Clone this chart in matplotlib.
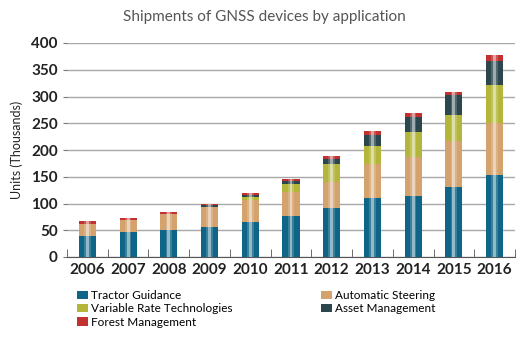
import numpy as np
import matplotlib.pyplot as plt
from matplotlib.patches import Patch

plt.rcParams['font.family'] = ['Lato', 'DejaVu Sans']

# Data (thousands of units)
years = ['2006', '2007', '2008', '2009', '2010', '2011', '2012', '2013', '2014', '2015', '2016']
tractor = [40, 46, 50, 57, 65, 77, 92, 110, 114, 131, 154]
auto_steer = [21, 23, 30, 36, 41, 44, 48, 63, 72, 85, 96]
vrt = [0, 0, 0, 1, 6, 16, 33, 35, 48, 50, 71]
asset = [1, 0, 0, 3, 3, 5, 11, 20, 27, 36, 46]
forest = [5, 3, 4, 3, 5, 4, 4, 8, 8, 6, 10]

series = [
    ('Tractor Guidance', tractor, '#0f6587'),
    ('Automatic Steering', auto_steer, '#d4a26c'),
    ('Variable Rate Technologies', vrt, '#b3b63a'),
    ('Asset Management', asset, '#2b474d'),
    ('Forest Management', forest, '#c2302f'),
]

fig = plt.figure(figsize=(5.29, 3.39), dpi=100)
ax = fig.add_axes([67 / 529, 1 - 257 / 339, 448 / 529, 214 / 339])

x = np.arange(len(years))
width = 0.42
bottom = np.zeros(len(years))
for name, vals, color in series:
    vals = np.array(vals, dtype=float)
    ax.bar(x, vals, width, bottom=bottom, color=color, zorder=2)
    bottom += vals

# soft highlight stripe down the middle of each bar
ax.bar(x, bottom, 0.16, color='white', alpha=0.18, zorder=3)
ax.bar(x, bottom, 0.07, color='white', alpha=0.45, zorder=3)

ax.set_xlim(-0.5, len(years) - 0.5)
ax.set_ylim(0, 400)
ax.set_yticks(np.arange(0, 401, 50))
ax.set_xticks(x)
ax.set_xticklabels(years, fontsize=11, fontweight='bold', color='#222222')
ax.set_xticks(np.arange(-0.5, len(years)), minor=True)
ax.tick_params(axis='x', which='major', length=0, pad=4)
ax.tick_params(axis='x', which='minor', direction='in', length=6, color='#555555')
ax.tick_params(axis='y', length=3, color='#777777', labelsize=11, labelcolor='#222222')
for lab in ax.get_yticklabels():
    lab.set_fontweight('bold')

ax.grid(axis='y', color='#a8a8a8', linewidth=1, zorder=0)
for s in ['top', 'right', 'left']:
    ax.spines[s].set_visible(False)
ax.spines['bottom'].set_color('#555555')

ax.set_ylabel('Units (Thousands)', fontsize=9, color='#222222', labelpad=6)
fig.text(0.5, 1 - 17 / 339, 'Shipments of GNSS devices by application',
         ha='center', va='center', fontsize=11, color='#555555')

handles = [Patch(facecolor=c, label=n) for n, _, c in series]
leg_kw = dict(loc='upper left', frameon=False, fontsize=8.5, handlelength=0.9,
              handleheight=0.7, handletextpad=0.3, labelspacing=0.2,
              borderaxespad=0, borderpad=0)
fig.legend([handles[i] for i in [0, 2, 4]], [series[i][0] for i in [0, 2, 4]],
           bbox_to_anchor=(77 / 529, 1 - 290 / 339), **leg_kw)
fig.legend([handles[i] for i in [1, 3]], [series[i][0] for i in [1, 3]],
           bbox_to_anchor=(321 / 529, 1 - 290 / 339), **leg_kw)

plt.savefig('out.png', dpi=100)
